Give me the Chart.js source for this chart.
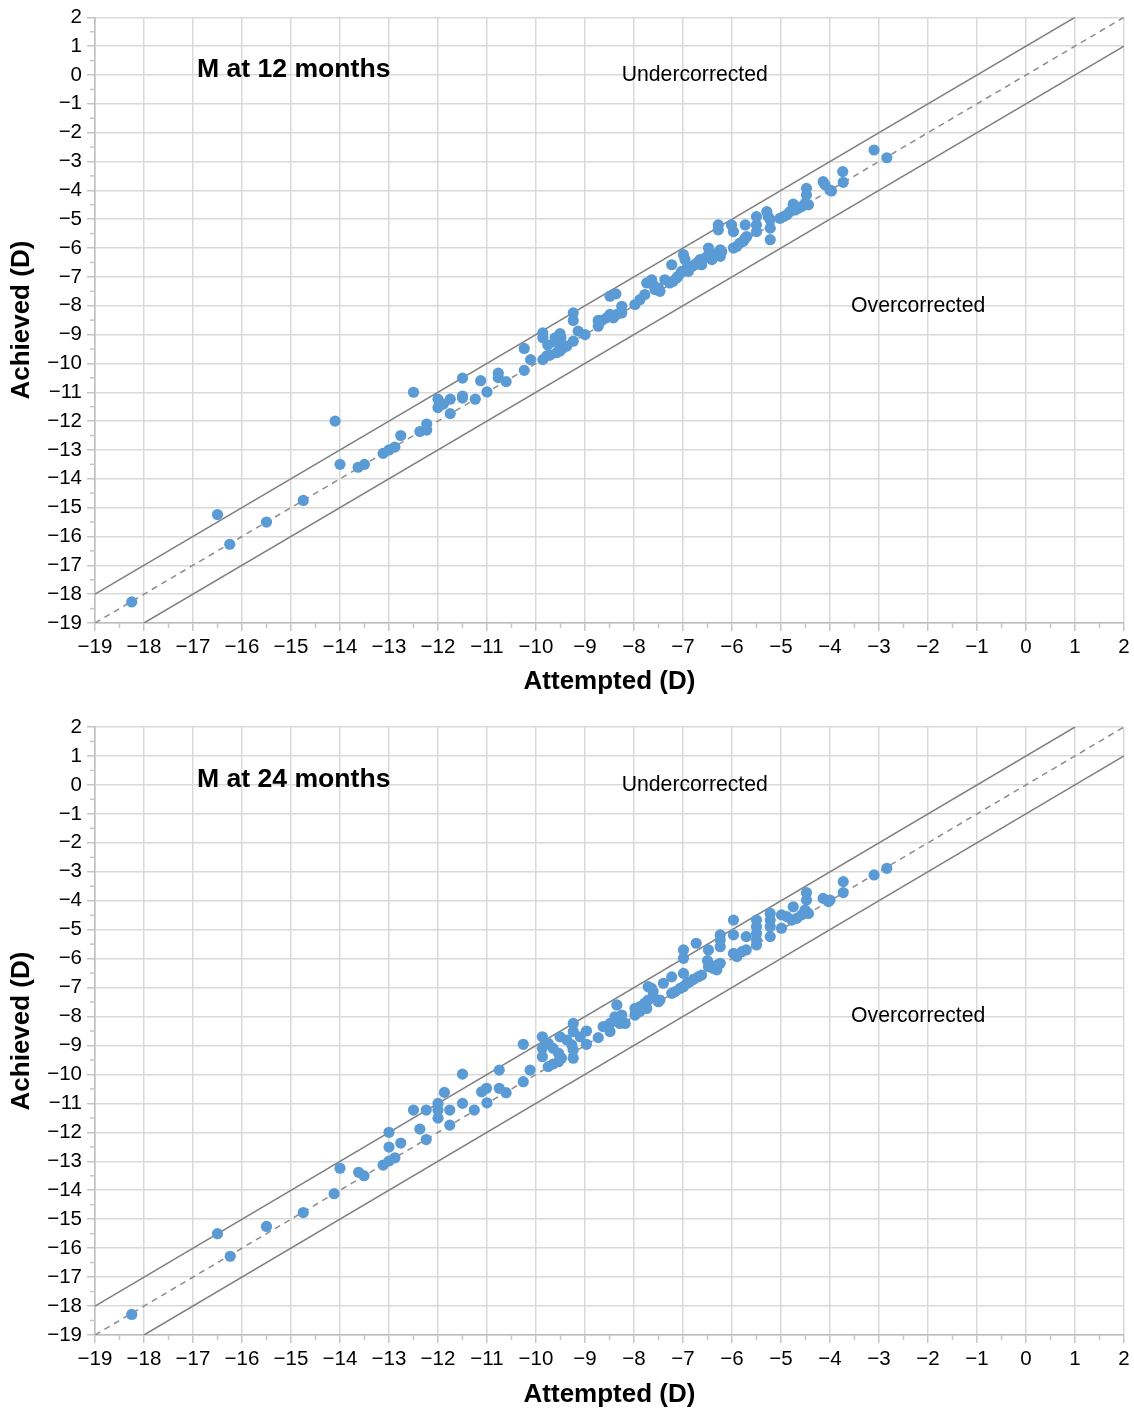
<!DOCTYPE html>
<html>
<head>
<meta charset="utf-8">
<title>Attempted vs achieved</title>
<script src="https://cdn.jsdelivr.net/npm/chart.js@4.4.1/dist/chart.umd.min.js"></script>
<style>
  body { margin: 0; background: #fff; }
  canvas { display: block; }
</style>
</head>
<body>
<canvas id="chart12" width="1134" height="704"></canvas>
<canvas id="chart24" width="1134" height="704"></canvas>
<script>
// Attempted / achieved correction (D)
const attempted12 = [
  -18.25, -16.5, -16.25, -15.5, -14.75, -14.1, -14.0, -13.63, -13.5, -13.12,
  -13.0, -12.88, -12.76, -12.5, -12.37, -12.23, -12.23, -12.0, -12.0, -11.89,
  -11.75, -11.75, -11.5, -11.5, -11.5, -11.24, -11.13, -11.0, -10.77, -10.77,
  -10.61, -10.24, -10.24, -10.11, -9.86, -9.86, -9.86, -9.78, -9.71, -9.76,
  -9.61, -9.58, -9.51, -9.49, -9.58, -9.51, -9.44, -9.37, -9.24, -9.24,
  -9.24, -9.14, -9.0, -8.73, -8.73, -8.66, -8.56, -8.49, -8.37, -8.49,
  -8.42, -8.35, -8.25, -8.25, -7.98, -7.88, -7.78, -7.74, -7.64, -7.61,
  -7.57, -7.5, -7.47, -7.37, -7.23, -7.27, -7.2, -7.13, -7.1, -7.03,
  -6.99, -6.96, -6.92, -6.89, -6.82, -6.76, -6.72, -6.65, -6.62, -6.55,
  -6.48, -6.48, -6.41, -6.38, -6.31, -6.24, -6.28, -6.28, -6.24, -6.21,
  -6.01, -5.97, -5.97, -5.9, -5.84, -5.77, -5.73, -5.73, -5.7, -5.5,
  -5.5, -5.5, -5.29, -5.26, -5.22, -5.22, -5.22, -5.02, -4.95, -4.88,
  -4.82, -4.75, -4.71, -4.65, -4.58, -4.51, -4.48, -4.48, -4.44, -4.14,
  -4.1, -4.0, -3.97, -3.74, -3.73, -3.1, -2.84
];
const achieved12 = [
  -18.27, -15.24, -16.27, -15.5, -14.75, -12.0, -13.5, -13.6, -13.5, -13.12,
  -13.0, -12.9, -12.5, -11.0, -12.36, -12.31, -12.1, -11.24, -11.53, -11.41,
  -11.24, -11.74, -10.51, -11.13, -11.2, -11.24, -10.6, -10.99, -10.34, -10.49,
  -10.63, -9.48, -10.24, -9.87, -8.94, -9.11, -9.87, -9.74, -9.71, -9.36,
  -9.11, -9.28, -8.97, -9.11, -9.63, -9.57, -9.46, -9.4, -8.25, -8.51,
  -9.23, -8.88, -9.0, -8.51, -8.71, -8.51, -8.42, -7.67, -7.59, -8.3,
  -8.42, -8.3, -8.25, -8.02, -7.96, -7.79, -7.61, -7.21, -7.1, -7.27,
  -7.44, -7.39, -7.5, -7.1, -6.58, -7.21, -7.15, -7.04, -6.98, -6.81,
  -6.23, -6.4, -6.69, -6.81, -6.64, -6.58, -6.52, -6.4, -6.58, -6.35,
  -6.0, -6.23, -6.4, -6.29, -6.18, -6.06, -5.2, -5.37, -6.29, -6.12,
  -5.2, -5.43, -6.0, -5.94, -5.83, -5.77, -5.2, -5.66, -5.6, -4.91,
  -5.2, -5.43, -4.74, -4.91, -5.02, -5.31, -5.71, -4.97, -4.91, -4.85,
  -4.74, -4.48, -4.68, -4.62, -4.56, -4.45, -3.93, -4.16, -4.5, -3.7,
  -3.81, -3.99, -4.02, -3.35, -3.72, -2.6, -2.87
];
const attempted24 = [
  -18.25, -16.5, -16.24, -15.5, -14.75, -14.12, -14.0, -13.62, -13.51, -13.12,
  -13.0, -12.88, -13.0, -13.0, -12.76, -12.5, -12.37, -12.24, -12.24, -12.0,
  -12.0, -12.0, -11.87, -11.76, -11.76, -11.5, -11.5, -11.26, -11.11, -11.01,
  -11.0, -10.75, -10.75, -10.61, -10.26, -10.26, -10.12, -9.87, -9.87, -9.87,
  -9.75, -9.65, -9.54, -9.48, -9.75, -9.65, -9.54, -9.51, -9.37, -9.27,
  -9.24, -9.24, -9.24, -9.24, -9.1, -8.97, -8.97, -8.73, -8.63, -8.49,
  -8.49, -8.39, -8.35, -8.29, -8.25, -8.18, -7.98, -7.88, -7.74, -7.98,
  -7.88, -7.78, -7.71, -7.61, -7.5, -7.47, -7.71, -7.64, -7.61, -7.4,
  -7.23, -7.23, -7.16, -7.06, -6.99, -6.92, -6.86, -6.79, -6.69, -6.62,
  -6.99, -6.99, -6.99, -6.73, -6.48, -6.5, -6.48, -6.38, -6.31, -6.24,
  -6.31, -6.24, -6.24, -6.24, -5.97, -5.97, -5.97, -5.9, -5.8, -5.71,
  -5.71, -5.5, -5.5, -5.5, -5.5, -5.5, -5.22, -5.22, -5.22, -5.22,
  -4.99, -4.99, -4.88, -4.78, -4.75, -4.68, -4.58, -4.51, -4.48, -4.48,
  -4.44, -4.14, -4.03, -4.0, -3.73, -3.73, -3.1, -2.84
];
const achieved24 = [
  -18.29, -15.5, -16.28, -15.25, -14.77, -14.12, -13.24, -13.38, -13.5, -13.13,
  -12.99, -12.88, -12.0, -12.51, -12.37, -11.23, -11.89, -11.23, -12.25, -11.0,
  -11.23, -11.51, -10.62, -11.23, -11.75, -9.99, -11.0, -11.23, -10.6, -10.48,
  -10.98, -9.85, -10.48, -10.63, -8.96, -10.25, -9.85, -8.7, -9.1, -9.39,
  -8.93, -9.1, -9.27, -9.44, -9.73, -9.64, -9.56, -8.7, -8.81, -8.98,
  -8.24, -8.52, -9.16, -9.44, -8.7, -8.5, -8.96, -8.73, -8.35, -8.24,
  -8.52, -8.01, -7.6, -8.24, -7.95, -8.24, -7.95, -7.83, -7.72, -7.72,
  -7.66, -7.54, -7.43, -7.32, -7.49, -7.43, -6.97, -7.03, -7.14, -6.85,
  -6.63, -7.2, -7.14, -7.03, -6.97, -6.85, -6.8, -6.72, -6.63, -6.57,
  -5.7, -5.99, -6.51, -5.47, -5.7, -6.07, -6.28, -6.34, -6.22, -6.16,
  -6.39, -5.18, -5.36, -5.59, -4.67, -5.18, -5.82, -5.93, -5.76, -5.7,
  -5.24, -4.67, -4.9, -5.13, -5.36, -5.53, -4.44, -4.67, -4.9, -5.24,
  -4.49, -4.95, -4.55, -4.67, -4.21, -4.61, -4.49, -4.32, -3.72, -3.98,
  -4.44, -3.92, -4.03, -3.98, -3.34, -3.72, -3.11, -2.88
];

const axisMin = -19;
const axisMax = 2;
const refOffsets = [1, 0, -1];   // achieved = attempted + offset

const FONT = '"Liberation Sans", Arial, Helvetica, sans-serif';
const fmt = v => (v < 0 ? '\u2212' + Math.abs(v) : String(v));

// short ticks at the half units on both axes
const minorTicks = {
  id: 'minorTicks',
  afterDraw(chart) {
    const { ctx, chartArea } = chart;
    const xs = chart.scales.x, ys = chart.scales.y;
    ctx.save();
    ctx.strokeStyle = '#c6c6c6';
    ctx.lineWidth = 1.5;
    for (let v = axisMin + 0.5; v < axisMax; v += 1) {
      const px = xs.getPixelForValue(v);
      ctx.beginPath();
      ctx.moveTo(px, chartArea.bottom);
      ctx.lineTo(px, chartArea.bottom + 5);
      ctx.stroke();
      const py = ys.getPixelForValue(v);
      ctx.beginPath();
      ctx.moveTo(chartArea.left, py);
      ctx.lineTo(chartArea.left - 5, py);
      ctx.stroke();
    }
    ctx.restore();
  }
};

// free text placed in data units
const notes = {
  id: 'notes',
  afterDraw(chart, args, opts) {
    const { ctx } = chart;
    const xs = chart.scales.x, ys = chart.scales.y;
    ctx.save();
    ctx.fillStyle = '#000';
    ctx.textBaseline = 'middle';
    (opts.items || []).forEach(n => {
      ctx.font = n.font;
      ctx.textAlign = n.align;
      ctx.fillText(n.text, xs.getPixelForValue(n.x), ys.getPixelForValue(n.y));
    });
    ctx.restore();
  }
};

function refLine(offset) {
  const x0 = Math.max(axisMin, axisMin - offset);
  const x1 = Math.min(axisMax, axisMax - offset);
  return {
    type: 'line',
    data: [{ x: x0, y: x0 + offset }, { x: x1, y: x1 + offset }],
    borderColor: offset === 0 ? '#8c8c8c' : '#808080',
    borderWidth: 1.5,
    borderDash: offset === 0 ? [6, 5] : [],
    pointRadius: 0,
    fill: false,
    order: 1
  };
}

function makeChart(id, attempted, achieved, label, padTop, axisHeight, titlePad) {
  const points = attempted.map((a, i) => ({ x: a, y: achieved[i] }));
  const axisTicks = {
    stepSize: 1,
    autoSkip: false,
    maxRotation: 0,
    color: '#000',
    font: { family: FONT, size: 20.5 },
    callback: v => fmt(v)
  };
  const grid = { color: '#d9d9d9', lineWidth: 1.5, tickLength: 8, tickColor: '#c6c6c6' };
  return new Chart(document.getElementById(id), {
    type: 'scatter',
    data: {
      datasets: [
        {
          data: points,
          backgroundColor: '#5b9bd5',
          borderWidth: 0,
          pointRadius: 5.6,
          order: 0
        },
        ...refOffsets.map(refLine)
      ]
    },
    options: {
      responsive: false,
      animation: false,
      devicePixelRatio: 1,
      layout: { padding: { top: padTop, right: 10, left: 0, bottom: 0 } },
      plugins: {
        legend: { display: false },
        tooltip: { enabled: false },
        notes: {
          items: [
            { text: label, x: -16.92, y: 0.17, align: 'left', font: 'bold 26.6px ' + FONT },
            { text: 'Undercorrected', x: -6.76, y: 0, align: 'center', font: '21.2px ' + FONT },
            { text: 'Overcorrected', x: -2.2, y: -8, align: 'center', font: '21.2px ' + FONT }
          ]
        }
      },
      scales: {
        x: {
          type: 'linear', min: axisMin, max: axisMax,
          ticks: { ...axisTicks, padding: 4 },
          grid: grid,
          border: { color: '#bdbdbd', width: 1.5 },
          title: {
            display: true, text: 'Attempted (D)', color: '#000',
            font: { family: FONT, size: 26, weight: 'bold' },
            padding: { top: 0, bottom: titlePad }
          },
          afterFit: s => { s.height = axisHeight; }
        },
        y: {
          type: 'linear', min: axisMin, max: axisMax,
          ticks: { ...axisTicks, padding: 5 },
          grid: grid,
          border: { color: '#bdbdbd', width: 1.5 },
          title: {
            display: true, text: 'Achieved (D)', color: '#000',
            font: { family: FONT, size: 26, weight: 'bold' },
            padding: { top: 6, bottom: 0 }
          },
          afterFit: s => { s.width = 95; }
        }
      }
    },
    plugins: [minorTicks, notes]
  });
}

makeChart('chart12', attempted12, achieved12, 'M at 12 months', 15, 81, 7);
makeChart('chart24', attempted24, achieved24, 'M at 24 months', 23, 73, -2);
</script>
</body>
</html>
